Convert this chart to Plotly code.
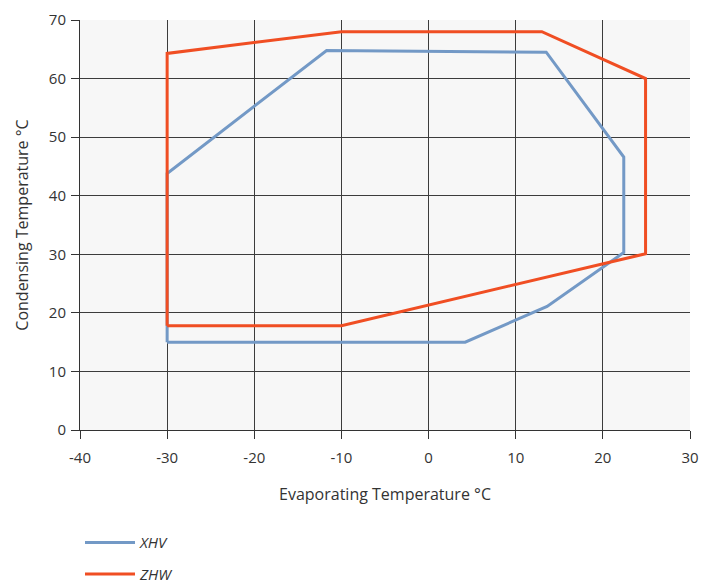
import plotly.graph_objects as go

# XHV envelope
xhv_evap = [-30, -30, -11.7, 13.5, 22.4, 22.4, 13.6, 4.2, -30]
xhv_cond = [15, 43.8, 64.8, 64.5, 46.6, 30.3, 21.1, 15, 15]

# ZHW envelope
zhw_evap = [-30, -30, -10, 13, 24.9, 24.9, -10, -30]
zhw_cond = [17.8, 64.3, 68, 68, 60, 30.1, 17.8, 17.8]

x_ticks = [-40, -30, -20, -10, 0, 10, 20, 30]
y_ticks = [0, 10, 20, 30, 40, 50, 60, 70]

fig = go.Figure()
fig.add_trace(go.Scatter(x=xhv_evap, y=xhv_cond, mode="lines", name="<i>XHV</i>",
                         legendgroup="a",
                         line=dict(color="#7399c6", width=3)))
fig.add_trace(go.Scatter(x=zhw_evap, y=zhw_cond, mode="lines", name="<i>ZHW</i>",
                         legendgroup="b",
                         line=dict(color="#f04e23", width=3)))

txt = "#333333"
fig.update_layout(
    width=713, height=583,
    margin=dict(l=80, r=23, t=20, b=153, autoexpand=False),
    paper_bgcolor="white", plot_bgcolor="#f7f7f7",
    font=dict(family="Open Sans", size=15, color=txt),
    showlegend=True,
    legend=dict(x=0.0, xanchor="left", y=-0.235, yanchor="top",
                tracegroupgap=9, itemwidth=50,
                font=dict(family="Open Sans", size=15, color=txt),
                bgcolor="rgba(0,0,0,0)"),
    xaxis=dict(range=[-40, 30], tickvals=x_ticks, ticktext=[str(v) for v in x_ticks],
               showgrid=True, gridcolor="#3c3c3c", gridwidth=1,
               zeroline=False, showline=True, linecolor="#333333", linewidth=1,
               ticks="outside", ticklen=8, tickcolor="#333333",
               ticklabelstandoff=6,
               tickfont=dict(family="Open Sans", size=15, color=txt),
               title=dict(text="Evaporating Temperature °C", standoff=22,
                          font=dict(family="Open Sans", size=16, color=txt))),
    yaxis=dict(range=[0, 70], tickvals=y_ticks,
               showgrid=True, gridcolor="#3c3c3c", gridwidth=1,
               zeroline=False, showline=True, linecolor="#333333", linewidth=1,
               ticks="outside", ticklen=8, tickcolor="#333333",
               ticklabelstandoff=2,
               tickfont=dict(family="Open Sans", size=15, color=txt),
               title=dict(text="Condensing Temperature °C", standoff=16,
                          font=dict(family="Open Sans", size=16, color=txt))),
)

fig.write_html("out.html")
